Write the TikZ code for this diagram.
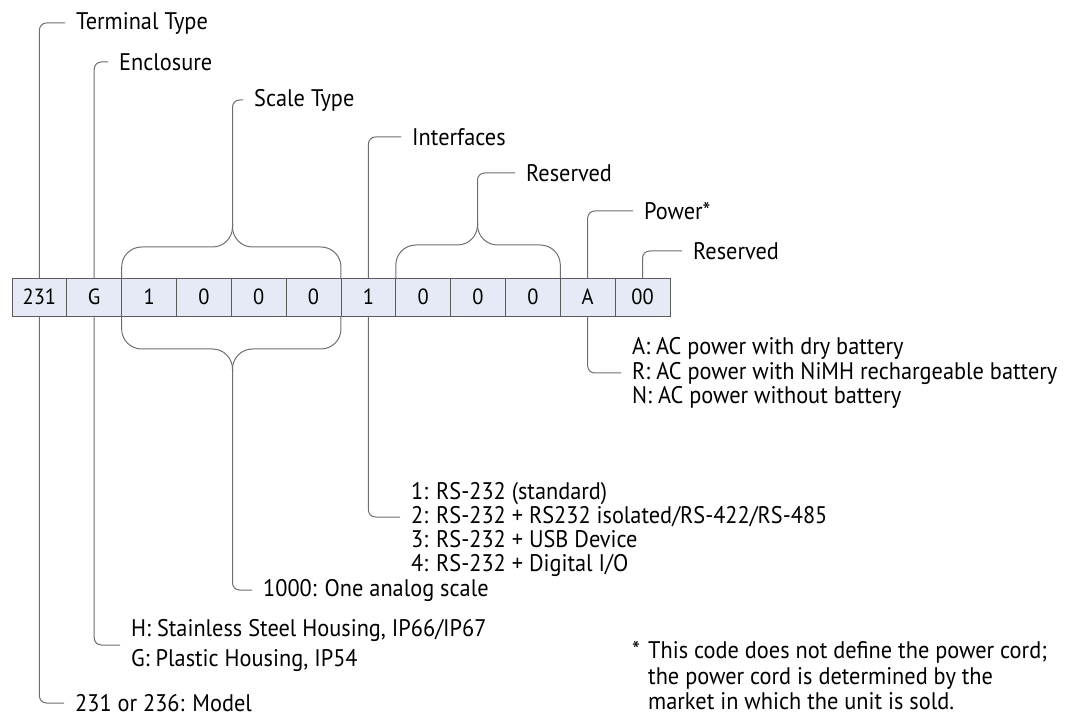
\documentclass[tikz,border=0pt]{standalone}
\usepackage{fontspec}
\setmainfont{PT Sans}[FakeStretch=0.93]
\definecolor{cellfill}{RGB}{229,234,246}
\definecolor{cellline}{RGB}{90,90,90}
\definecolor{leadline}{RGB}{110,110,110}
\tikzset{
  cell/.style={draw=cellline, fill=cellfill, line width=0.9pt, minimum width=54.83pt,
    minimum height=38pt, inner sep=0pt, outer sep=0pt, font=\fontsize{22}{26}\selectfont},
  lead/.style={draw=leadline, line width=1pt, rounded corners=7pt},
  brace/.style={lead, rounded corners=20pt},
  tag/.style={anchor=west, inner xsep=11pt, inner ysep=1pt, align=left,
    font=\fontsize{24}{24.5}\selectfont},
}
\begin{document}
\begin{tikzpicture}[x=1pt,y=-1pt]
\useasboundingbox (0,0) rectangle (1069,719);

% brace points
\coordinate (scaleUp) at (232.5,247);
\coordinate (scaleUpTip) at (232.5,224);
\coordinate (scaleDn) at (232.5,349);
\coordinate (scaleDnTip) at (232.5,372);
\coordinate (resUp) at (477.5,245);
\coordinate (resUpTip) at (477.5,222);

% the code
\foreach \i/\t in {1/231,2/G,3/1,4/0,5/0,6/0,7/1,8/0,9/0,10/0,11/A,12/00}
  \node[cell] (c\i) at ({12+(\i-0.5)*54.83},297) {\t};

% labels above
\node[tag] (terminal) at (65,23) {Terminal Type};
\node[tag] (encl) at (108,62) {Enclosure};
\node[tag] (scale) at (243,100) {Scale Type};
\node[tag] (intf) at (401,137) {Interfaces};
\node[tag] (resA) at (515,173) {Reserved};
\node[tag] (power) at (633,211) {Power*};
\node[tag] (resB) at (682,251) {Reserved};

% options below
\node[tag] (model) at (64,703) {231 or 236: Model};
\node[tag, font=\fontsize{24}{30}\selectfont] (enclOpt) at (120,645)
  {H: Stainless Steel Housing, IP66/IP67\\G: Plastic Housing, IP54};
\node[tag] (scaleOpt) at (252,590) {1000: One analog scale};
\node[tag, font=\fontsize{24}{24.3}\selectfont] (ifOpt) at (400,529.5)
  {1: RS-232 (standard)\\2: RS-232 + RS232 isolated/RS-422/RS-485\\3: RS-232 + USB Device\\4: RS-232 + Digital I/O};
\node[tag] (powOpt) at (621,373)
  {A: AC power with dry battery\\R: AC power with NiMH rechargeable battery\\N: AC power without battery};

% footnote
\node[tag, inner xsep=0pt] (star) at (632,650) {*};
\node[tag, inner xsep=0pt, font=\fontsize{24}{25.5}\selectfont] (note) at (648,676)
  {This code does not define the power cord;\\the power cord is determined by the\\market in which the unit is sold.};

% leads
\draw[lead] (c1.north) |- (terminal.west);
\draw[lead] (c1.south) |- (model.west);
\draw[lead] (c2.north) |- (encl.west);
\draw[lead] (c2.south) |- (enclOpt.west);
\draw[lead] (c7.north) |- (intf.west);
\draw[lead] (c7.south) |- ([yshift=12.5pt]ifOpt.west);
\draw[lead] (c11.north) |- (power.west);
\draw[lead] (c11.south) |- (powOpt.west);
\draw[lead] (c12.north) |- (resB.west);

% braces
\draw[brace] (c3.north west) |- (scaleUp) -- (scaleUpTip);
\draw[brace] (c6.north east) |- (scaleUp) -- (scaleUpTip);
\draw[lead] (scaleUpTip) |- (scale.west);
\draw[brace] (c3.south west) |- (scaleDn) -- (scaleDnTip);
\draw[brace] (c6.south east) |- (scaleDn) -- (scaleDnTip);
\draw[lead] (scaleDnTip) |- (scaleOpt.west);
\draw[brace] (c8.north west) |- (resUp) -- (resUpTip);
\draw[brace] (c10.north east) |- (resUp) -- (resUpTip);
\draw[lead] (resUpTip) |- (resA.west);

\end{tikzpicture}
\end{document}
